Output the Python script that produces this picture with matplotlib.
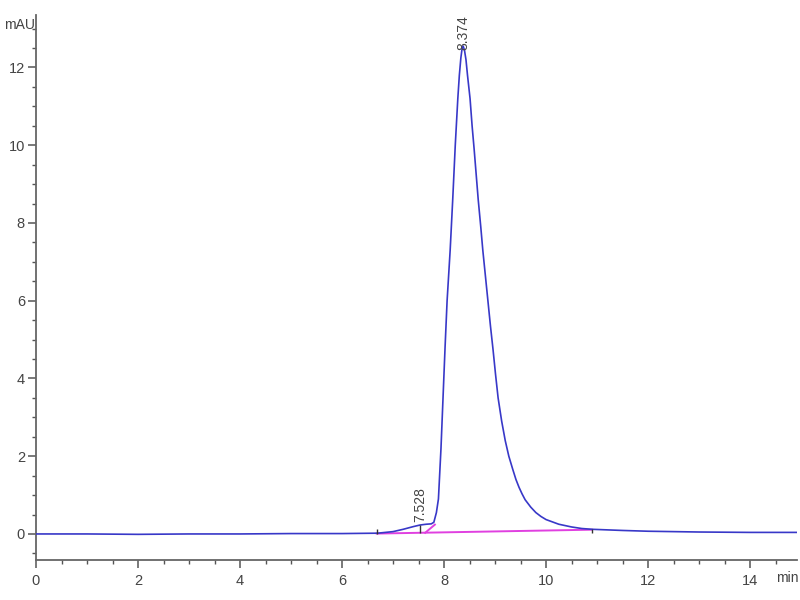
import matplotlib
matplotlib.use("Agg")
import matplotlib.pyplot as plt
from matplotlib.ticker import MultipleLocator

# chromatogram trace (min, mAU)
time_min = [0.0, 1.0, 2.0, 3.0, 4.0, 5.0, 6.0, 6.7, 7.0, 7.2, 7.4, 7.53, 7.65, 7.75,
            7.80, 7.85, 7.89, 7.94, 7.98, 8.02, 8.06, 8.12, 8.17, 8.22, 8.27, 8.30,
            8.33, 8.355, 8.374, 8.40, 8.43, 8.46, 8.51, 8.55, 8.59, 8.63, 8.67, 8.72,
            8.76, 8.81, 8.86, 8.91, 8.96, 9.01, 9.06, 9.13, 9.2, 9.27, 9.35, 9.41,
            9.47, 9.53, 9.59, 9.7, 9.8, 9.9, 10.0, 10.25, 10.5, 10.7, 10.9, 11.5,
            12.0, 13.0, 14.0, 14.92]
signal_mau = [0.0, 0.0, -0.01, 0.0, 0.0, 0.01, 0.01, 0.02, 0.06, 0.12, 0.19, 0.23, 0.25, 0.26,
              0.30, 0.55, 0.90, 2.2, 3.5, 4.8, 6.0, 7.3, 8.6, 10.0, 11.2, 11.8,
              12.25, 12.5, 12.55, 12.45, 12.2, 11.8, 11.2, 10.5, 9.9, 9.25, 8.6, 7.9,
              7.3, 6.65, 6.0, 5.35, 4.75, 4.1, 3.5, 2.9, 2.4, 2.0, 1.65, 1.4,
              1.2, 1.03, 0.88, 0.69, 0.55, 0.45, 0.37, 0.25, 0.18, 0.14, 0.12, 0.09,
              0.07, 0.05, 0.04, 0.04]

# integration baselines
baseline_t = [6.68, 10.9]
baseline_v = [0.01, 0.11]
drop_t = [7.63, 7.82]
drop_v = [0.03, 0.24]

# peak labels
peak_times = [7.528, 8.374]
peak_labels = ["7.528", "8.374"]
label_base = [0.30, 12.45]
marker_t = [6.68, 7.528, 10.9]
marker_lo = [0.0, 0.03, 0.03]
marker_hi = [0.14, 0.23, 0.14]

x_ticks = [0, 2, 4, 6, 8, 10, 12, 14]
y_ticks = [0, 2, 4, 6, 8, 10, 12]

fam = ["Liberation Sans Narrow", "Liberation Sans", "DejaVu Sans"]
plt.rcParams["font.family"] = fam

fig = plt.figure(figsize=(8, 6), dpi=100)
ax = fig.add_axes([36/800, 40/600, 761/800, 545/600])

ax.plot(baseline_t, baseline_v, color="#e040e0", lw=1.4, zorder=2)
ax.plot(drop_t, drop_v, color="#e040e0", lw=1.4, zorder=2)
ax.plot(time_min, signal_mau, color="#3838c8", lw=1.2, zorder=3)
ax.vlines(marker_t, marker_lo, marker_hi, color="#333333", lw=1.0, zorder=4)

for t, lab, b in zip(peak_times, peak_labels, label_base):
    ax.text(t, b, lab, rotation=90, ha="center", va="bottom", fontsize=10,
            color="#444444", zorder=5)

ax.set_xlim(0, 14.92)
ax.set_ylim(-0.67, 13.35)
ax.set_xticks(x_ticks)
ax.set_yticks(y_ticks)
ax.xaxis.set_minor_locator(MultipleLocator(0.5))
ax.yaxis.set_minor_locator(MultipleLocator(0.5))

for s in ["top", "right"]:
    ax.spines[s].set_visible(False)
for s in ["left", "bottom"]:
    ax.spines[s].set_color("#666666")
    ax.spines[s].set_linewidth(1.3)

ax.tick_params(axis="both", which="major", direction="out", length=6, width=1.1,
               color="#555555", labelsize=10.5, labelcolor="#444444")
ax.tick_params(axis="both", which="minor", direction="out", length=3, width=1.0,
               color="#555555")
ax.tick_params(axis="y", pad=2)
ax.tick_params(axis="x", pad=4)

fig.text(4/800, 1 - 25/600, "mAU", fontsize=10, color="#444444", ha="left", va="center")
fig.text(799/800, 1 - 578/600, "min", fontsize=10, color="#444444", ha="right", va="center")

fig.savefig("out.png", dpi=100, facecolor="white")
